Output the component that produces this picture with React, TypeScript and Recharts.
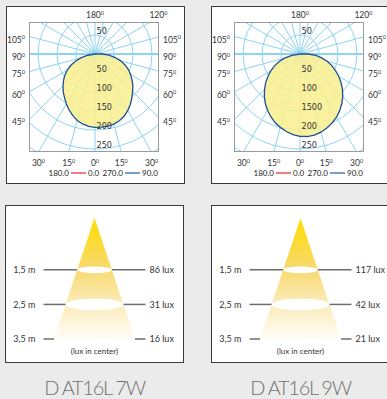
import React from 'react';
import {
  RadarChart,
  Radar,
  PolarGrid,
  PolarAngleAxis,
  PolarRadiusAxis,
  ComposedChart,
  Area,
  XAxis,
  YAxis,
  ReferenceLine,
  ReferenceArea,
} from 'recharts';

// polar curves: intensity by gamma angle (0 = straight down)
const gammaAngles = [0, 5, 10, 15, 20, 25, 30, 35, 40, 45, 50, 55, 60, 65, 70, 75, 80, 85, 90];
const intensity7W = [193, 193, 191, 187, 181, 172, 162, 151, 140, 130, 119, 108, 97, 84, 70, 54, 37, 19, 0];
const intensity9W = [218, 217, 213, 207, 200, 192, 182, 171, 159, 146, 132, 118, 103, 89, 74, 58, 42, 22, 0];

const radiusTicks = [0, 50, 100, 150, 200, 250, 300, 350];
const radiusLabels7W = ['50', '100', '150', '200', '250'];
const radiusLabels9W = ['50', '100', '1500', '200', '250'];
const gridAngles = [0, 15, 30, 45, 60, 75, 90, 105, 120, 135, 150, 165, 180, 195, 210, 225, 240, 255, 270, 285, 300, 315, 330, 345];
const sideAngleLabels = [105, 90, 75, 60, 45];
const bottomAngleLabels = [-30, -15, 0, 15, 30];
const legendPlanes = [
  { from: '180.0', to: '0.0', color: '#e3262c' },
  { from: '270.0', to: '90.0', color: '#1f5ea8' },
];

// light cone
const distances = [1.5, 2.5, 3.5];
const distanceLabels = ['1,5 m', '2,5 m', '3,5 m'];
const lux7W = [86, 31, 16];
const lux9W = [117, 42, 21];
const beamAngle = 37;
const titles = ['D AT16L 7W', 'D AT16L 9W'];

const FONT = "Lato, 'Open Sans', sans-serif";
const NARROW = "'Liberation Sans Narrow', 'DejaVu Sans Condensed', 'Roboto Condensed', sans-serif";
const GRID = '#8dd3f2';

// polar box geometry (px)
const BOX_X = 29;
const BOX_Y = 22;
const BOX = 130;
const CX = 66;
const CY = 32;
const R_MAX = 350;
const OUTER = 133;

const buildPolarData = (vals: number[]) => {
  const rows: { angle: number; c90: number }[] = [];
  for (let a = 0; a < 360; a += 5) {
    const g = a <= 180 ? a : 360 - a;
    const idx = gammaAngles.indexOf(g);
    rows.push({ angle: a, c90: idx >= 0 ? vals[idx] : 0 });
  }
  return rows;
};

const Deg = ({ x, y, v, anchor }: any) => (
  <text x={x} y={y} textAnchor={anchor} fontSize={8.5} fill="#333" fontFamily={FONT}>
    {v}
    <tspan fontSize={5.5} dy={-3.5}>0</tspan>
  </text>
);

const PolarPanel = ({ dx, values, labels }: { dx: number; values: number[]; labels: string[] }) => {
  const data = buildPolarData(values);
  const cxAbs = BOX_X + CX;
  const cyAbs = BOX_Y + CY;
  const half = 65;

  const RadiusTick = (props: any) => {
    const { x, y, payload } = props;
    const idx = radiusTicks.indexOf(payload.value) - 1;
    if (idx < 0 || idx >= labels.length) return <g />;
    const style = { fontSize: 9, fill: '#333', fontFamily: NARROW };
    return (
      <g>
        <text x={x + 1.5} y={y - 1.5} {...style}>{labels[idx]}</text>
        {idx === 0 && (
          <text x={x + 1.5} y={2 * CY - y - 1.5} {...style}>{labels[0]}</text>
        )}
      </g>
    );
  };

  return (
    <>
      <div
        style={{
          position: 'absolute', left: dx + 6, top: 6, width: 179, height: 178,
          border: '1px solid #3a3a3a', background: '#fff', boxSizing: 'border-box',
        }}
      />
      <div style={{ position: 'absolute', left: dx + BOX_X, top: BOX_Y, width: BOX, height: BOX, overflow: 'hidden' }}>
        <RadarChart
          width={BOX}
          height={BOX}
          data={data}
          cx={CX}
          cy={CY}
          outerRadius={OUTER}
          startAngle={-90}
          endAngle={270}
          margin={{ top: 0, right: 0, bottom: 0, left: 0 }}
        >
          <PolarAngleAxis dataKey="angle" tick={false} axisLine={false} />
          <Radar
            dataKey="c90"
            stroke="#1d4f9c"
            strokeWidth={1.3}
            fill="#f9ee8e"
            fillOpacity={0.85}
            isAnimationActive={false}
          />
          <PolarGrid gridType="circle" polarAngles={gridAngles.map((a) => a - 90)} stroke={GRID} strokeWidth={1} />
          <PolarGrid gridType="circle" polarAngles={[0, 180]} polarRadius={[]} stroke={GRID} strokeWidth={2} />
          <PolarRadiusAxis
            domain={[0, R_MAX]}
            ticks={radiusTicks as any}
            tickCount={8}
            angle={-90}
            axisLine={false}
            tick={<RadiusTick />}
          />
        </RadarChart>
        <div style={{ position: 'absolute', left: 0, top: 0, width: BOX, height: BOX, border: '1px solid #9a9a9a', boxSizing: 'border-box' }} />
      </div>
      <svg style={{ position: 'absolute', left: dx, top: 0 }} width={190} height={190}>
        <Deg x={cxAbs} y={18} v={180} anchor="middle" />
        <Deg x={cxAbs + 32 * Math.tan((60 * Math.PI) / 180) + 8} y={18} v={120} anchor="middle" />
        {sideAngleLabels.map((g) => {
          const y = cyAbs + half / Math.tan((g * Math.PI) / 180) + 6;
          return (
            <React.Fragment key={g}>
              <Deg x={25} y={y} v={g} anchor="end" />
              <Deg x={163} y={y} v={g} anchor="start" />
            </React.Fragment>
          );
        })}
        {bottomAngleLabels.map((g, i) => (
          <Deg key={i} x={cxAbs + 98 * Math.tan((g * Math.PI) / 180)} y={166} v={Math.abs(g)} anchor="middle" />
        ))}
        <g fontSize={8} fill="#222" fontFamily={FONT}>
          <text x={69} y={176} textAnchor="end">{legendPlanes[0].from}</text>
          <line x1={71} x2={86} y1={173} y2={173} stroke={legendPlanes[0].color} strokeWidth={1.2} />
          <text x={88} y={176}>{legendPlanes[0].to}</text>
          <text x={123} y={176} textAnchor="end">{legendPlanes[1].from}</text>
          <line x1={125} x2={140} y1={173} y2={173} stroke={legendPlanes[1].color} strokeWidth={1.2} />
          <text x={142} y={176}>{legendPlanes[1].to}</text>
        </g>
      </svg>
    </>
  );
};

const SPAN = 1.475;

const ConePanel = ({ left, lux, title, id }: { left: number; lux: number[]; title: string; id: string }) => {
  const t = Math.tan(((beamAngle / 2) * Math.PI) / 180);
  const maxD = distances[distances.length - 1];
  const coneData = [
    { x: -maxD * t, y: maxD },
    { x: 0, y: 0 },
    { x: maxD * t, y: maxD },
  ];

  const makeTick = (fmt: (i: number) => string) => (p: any) => (
    <text
      x={p.x}
      y={p.y}
      dy="0.35em"
      textAnchor={p.textAnchor}
      fontSize={9}
      fill="#333"
      fontFamily={FONT}
    >
      {fmt(distances.indexOf(p.payload.value))}
    </text>
  );

  return (
    <>
      <div
        style={{
          position: 'absolute', left, top: 205, width: 179, height: 158,
          border: '1px solid #3a3a3a', background: '#fff', boxSizing: 'border-box',
        }}
      />
      <div style={{ position: 'absolute', left, top: 205 }}>
        <ComposedChart width={179} height={158} data={coneData} margin={{ top: 13, right: 0, bottom: 24, left: 0 }}>
          <defs>
            <linearGradient id={`cone-${id}`} x1="0" y1="0" x2="0" y2="1">
              <stop offset="0%" stopColor="#ffdd00" />
              <stop offset="40%" stopColor="#f8d96a" />
              <stop offset="70%" stopColor="#fbebb8" />
              <stop offset="100%" stopColor="#fffdf6" />
            </linearGradient>
          </defs>
          <XAxis type="number" dataKey="x" domain={[-SPAN, SPAN]} hide allowDataOverflow />
          <YAxis
            yAxisId="left"
            type="number"
            reversed
            domain={[0, maxD]}
            ticks={distances}
            width={38.5}
            axisLine={false}
            tickLine={false}
            tickSize={6}
            tick={makeTick((i) => distanceLabels[i])}
          />
          <YAxis
            yAxisId="right"
            orientation="right"
            type="number"
            reversed
            domain={[0, maxD]}
            ticks={distances}
            width={38.5}
            axisLine={false}
            tickLine={false}
            tickSize={2}
            tick={makeTick((i) => `${lux[i]} lux`)}
          />
          <Area
            yAxisId="right"
            dataKey="y"
            type="linear"
            baseValue={maxD}
            stroke="none"
            fill="none"
            fillOpacity={0}
            isAnimationActive={false}
          />
          <Area
            yAxisId="left"
            dataKey="y"
            type="linear"
            baseValue={maxD}
            stroke="none"
            fill={`url(#cone-${id})`}
            fillOpacity={1}
            isAnimationActive={false}
          />
          {distances.slice(0, 2).map((d) => (
            <ReferenceArea
              key={`e${d}`}
              yAxisId="left"
              x1={-d * t}
              x2={d * t}
              y1={d - 0.1}
              y2={d + 0.1}
              shape={(p: any) => (
                <ellipse cx={p.x + p.width / 2} cy={p.y + p.height / 2} rx={p.width / 2} ry={p.width * 0.1} fill="#fff" />
              )}
            />
          ))}
          {distances.map((d) => (
            <ReferenceLine
              key={`l${d}`}
              yAxisId="left"
              segment={[{ x: -SPAN, y: d }, { x: -d * t, y: d }]}
              stroke="#6e6e6e"
              strokeWidth={1.5}
            />
          ))}
          {distances.map((d) => (
            <ReferenceLine
              key={`r${d}`}
              yAxisId="left"
              segment={[{ x: d * t, y: d }, { x: SPAN, y: d }]}
              stroke="#6e6e6e"
              strokeWidth={1.5}
            />
          ))}
        </ComposedChart>
      </div>
      <div
        style={{
          position: 'absolute', left, top: 345, width: 179, textAlign: 'center',
          fontSize: 8, lineHeight: '12px', color: '#333', fontFamily: FONT,
        }}
      >
        (lux in center)
      </div>
      <div
        style={{
          position: 'absolute', left, top: 374, width: 179, textAlign: 'center',
          fontSize: 20, lineHeight: '26px', color: '#707070', fontFamily: FONT, fontWeight: 300,
          letterSpacing: -1.3,
        }}
      >
        {title}
      </div>
    </>
  );
};

export default function App() {
  return (
    <div
      style={{
        position: 'absolute', left: 0, top: 0, width: 387, height: 399,
        overflow: 'hidden', background: '#ebebeb', fontFamily: FONT,
      }}
    >
      <PolarPanel dx={0} values={intensity7W} labels={radiusLabels7W} />
      <PolarPanel dx={205} values={intensity9W} labels={radiusLabels9W} />
      <ConePanel left={5} lux={lux7W} title={titles[0]} id="a" />
      <ConePanel left={211} lux={lux9W} title={titles[1]} id="b" />
    </div>
  );
}
